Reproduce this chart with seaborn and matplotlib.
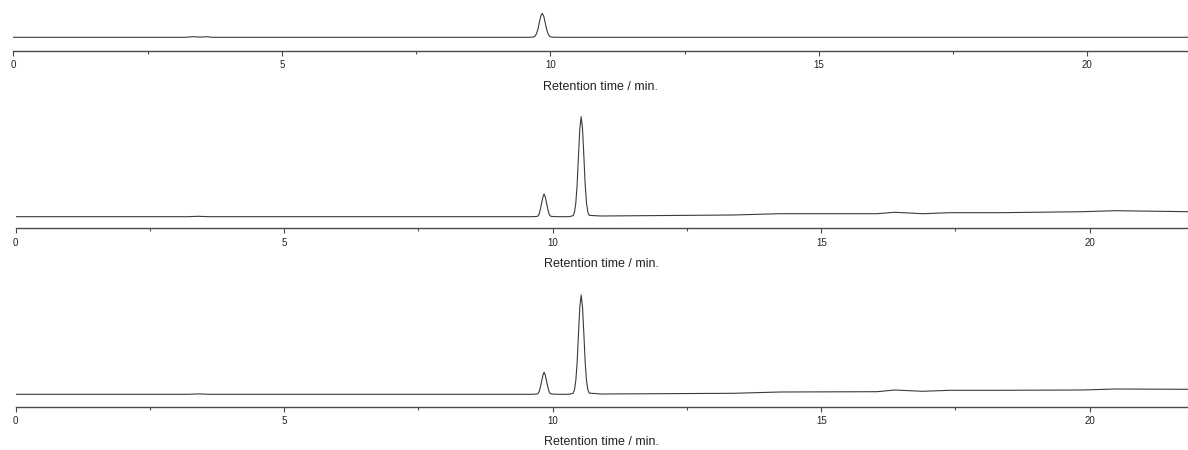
import numpy as np
import pandas as pd
import matplotlib
matplotlib.use("Agg")
import matplotlib.pyplot as plt
from matplotlib.ticker import MultipleLocator
import seaborn as sns

# ---------------- data ----------------
time_top = [0.0, 3.20, 3.35, 3.50, 3.60, 3.70, 9.60,
            9.685, 9.71, 9.74, 9.7675, 9.795, 9.8225, 9.85, 9.8775, 9.905, 9.9325,
            9.96, 9.99, 10.015, 10.10, 21.90]
signal_top = [0.0, 0.0, 0.6, 0.2, 0.6, 0.0, 0.0,
              0.27, 0.9, 3.2, 7.8, 14.6, 21.2, 24.0, 21.2, 14.6, 7.8,
              3.2, 0.9, 0.27, 0.0, 0.0]

time_mid = [0.0, 3.20, 3.40, 3.60, 9.60,
            9.71, 9.73, 9.75, 9.77, 9.795, 9.82, 9.84, 9.86, 9.885, 9.91, 9.93, 9.95, 9.975,
            10.10, 10.30,
            10.38, 10.405, 10.43, 10.455, 10.48, 10.505, 10.53, 10.555, 10.58, 10.605,
            10.63, 10.655, 10.68,
            10.90, 13.36, 14.23, 16.04, 16.37, 16.89, 17.40, 18.33, 19.87, 20.47, 21.85]
signal_mid = [0.0, 0.0, 0.4, 0.0, 0.0,
              0.25, 1.0, 3.1, 7.4, 13.8, 20.0, 22.7, 20.0, 13.8, 7.4, 3.1, 1.0, 0.3,
              0.0, 0.0,
              1.0, 4.4, 13.5, 32.0, 61.0, 88.0, 100.0, 88.0, 61.0, 32.0,
              13.5, 4.4, 1.3,
              0.7, 1.7, 3.0, 3.0, 4.4, 3.0, 4.0, 4.0, 5.0, 6.0, 5.0]

time_bot = time_mid
signal_bot = [0.0, 0.0, 0.4, 0.0, 0.0,
              0.25, 1.0, 3.0, 7.2, 13.4, 19.4, 22.0, 19.4, 13.4, 7.2, 3.0, 1.0, 0.3,
              0.0, 0.0,
              1.0, 4.4, 13.4, 31.8, 60.6, 87.4, 99.3, 87.4, 60.6, 31.8,
              13.4, 4.4, 1.2,
              0.3, 1.0, 2.3, 2.6, 4.3, 3.0, 4.0, 4.0, 4.3, 5.3, 5.0]

major_ticks = [0, 5, 10, 15, 20]
x_label = "Retention time / min."

# ---------------- styling ----------------
sns.set_theme(style="white")
plt.rcParams['font.family'] = ['Liberation Sans', 'DejaVu Sans']

W, H = 1188, 450
fig = plt.figure(figsize=(W / 100, H / 100), dpi=100)

line_color = "#3a3a3a"
spine_color = "#4a4a4a"

# panel geometry in pixels: (x-origin px, spine y px, top y px, baseline y px)
panels = [
    (time_top, signal_top, 13.3, 51.0, 0.0, 37.3),
    (time_mid, signal_mid, 15.7, 228.3, 100.0, 216.7),
    (time_bot, signal_bot, 15.7, 406.5, 280.0, 394.3),
]
px_per_min = 53.7

for t, s, x0, spine_y, top_y, base_y in panels:
    left = x0 / W
    width = (W - x0) / W
    bottom = (H - spine_y) / H
    height = (spine_y - top_y) / H
    ax = fig.add_axes([left, bottom, width, height])
    df = pd.DataFrame({"time": t, "signal": s})
    sns.lineplot(data=df, x="time", y="signal", ax=ax, color=line_color,
                 linewidth=0.8, estimator=None, sort=False)
    ax.set_xlim(0, (W - x0) / px_per_min)
    ax.set_ylim(-(spine_y - base_y), base_y - top_y)
    sns.despine(ax=ax, left=True, top=True, right=True)
    ax.spines["bottom"].set_color(spine_color)
    ax.spines["bottom"].set_linewidth(1.0)
    ax.set_yticks([])
    ax.set_ylabel("")
    ax.set_xticks(major_ticks)
    ax.set_xticklabels([str(v) for v in major_ticks])
    ax.xaxis.set_minor_locator(MultipleLocator(2.5))
    ax.tick_params(axis="x", which="major", direction="out", length=3.8,
                   width=0.8, color=spine_color, labelsize=7,
                   labelcolor="#222222", pad=3, bottom=True)
    ax.tick_params(axis="x", which="minor", direction="out", length=2.0,
                   width=0.8, color=spine_color, bottom=True)
    ax.set_xlabel(x_label, fontsize=9, color="#222222", labelpad=7.5)
    ax.patch.set_alpha(0)

fig.savefig("out.png", dpi=100)
